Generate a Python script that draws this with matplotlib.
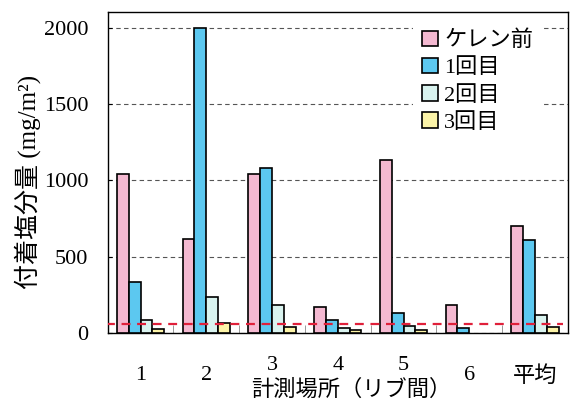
import numpy as np
import matplotlib
matplotlib.use("Agg")
import matplotlib.pyplot as plt
from matplotlib.patches import Patch
from matplotlib.transforms import ScaledTranslation

plt.rcParams['font.family'] = ['Liberation Serif', 'Noto Sans CJK JP']

# data
places = ['1', '2', '3', '4', '5', '6', '平均']
series = ['ケレン前', '1回目', '2回目', '3回目']
before = [1043, 614, 1043, 172, 1133, 180, 703]
first = [336, 2000, 1084, 85, 129, 33, 612]
second = [85, 234, 184, 33, 48, 0, 118]
third = [24, 63, 37, 20, 20, 0, 37]
limit_val = 55

colors = ['#f4b9d1', '#5cc8f0', '#d9f3ef', '#fcf4a8']

fig = plt.figure(figsize=(5.73, 4.01), dpi=100)
ax = fig.add_axes([0.188, 0.170, 0.803, 0.800])

x = np.arange(len(places))
w = 0.18
vals = [before, first, second, third]
for i, v in enumerate(vals):
    vv = np.array(v, dtype=float)
    xs = x + (i - 1.5) * w
    m = vv > 0
    ax.bar(xs[m], vv[m], width=w, color=colors[i], edgecolor='black',
           linewidth=1.2, zorder=3)

# red dashed limit line
ax.hlines(limit_val, -0.52, 6.42, colors='#e0203a', linestyles=(0, (4, 3)),
          linewidth=1.6, zorder=4)

ax.set_xlim(-0.5, len(places) - 0.5)
ax.set_ylim(0, 2105)
ax.set_yticks([0, 500, 1000, 1500, 2000])
ax.yaxis.grid(True, color='#555555', linestyle=(0, (4, 3)), linewidth=0.8, zorder=0)
ax.set_axisbelow(True)

ax.set_xticks(x)
ax.set_xticklabels(places)
ax.set_xticks(np.arange(len(places) - 1) + 0.5, minor=True)
ax.tick_params(axis='x', which='major', length=0, pad=24, labelsize=16)
ax.tick_params(axis='x', which='minor', direction='in', length=6, color='#888888')
ax.tick_params(axis='y', direction='in', length=3, pad=14, labelsize=16)

# tick labels 3,4,5 sit a bit higher in the original
for lab in ax.get_xticklabels()[2:5]:
    lab.set_transform(lab.get_transform() + ScaledTranslation(0, 7 / 72, fig.dpi_scale_trans))

for s in ax.spines.values():
    s.set_linewidth(1.0)
    s.set_color('black')

ax.set_ylabel('付着塩分量 (mg/m²)', fontsize=18, labelpad=0)
ax.yaxis.set_label_coords(-0.145, 0.47)
ax.set_xlabel('計測場所（リブ間）', fontsize=16, labelpad=-7)
ax.xaxis.set_label_coords(0.53, -0.145)

handles = [Patch(facecolor=c, edgecolor='black', linewidth=1.2) for c in colors]
leg = ax.legend(handles, series, loc='upper left', bbox_to_anchor=(0.64, 1.005),
                fontsize=16, frameon=True, facecolor='white', edgecolor='none',
                framealpha=1, handlelength=0.7, handleheight=0.7,
                handletextpad=0.3, labelspacing=0.3, borderpad=0.4,
                fancybox=False)
leg.set_zorder(5)

fig.savefig('out.png', dpi=100)
